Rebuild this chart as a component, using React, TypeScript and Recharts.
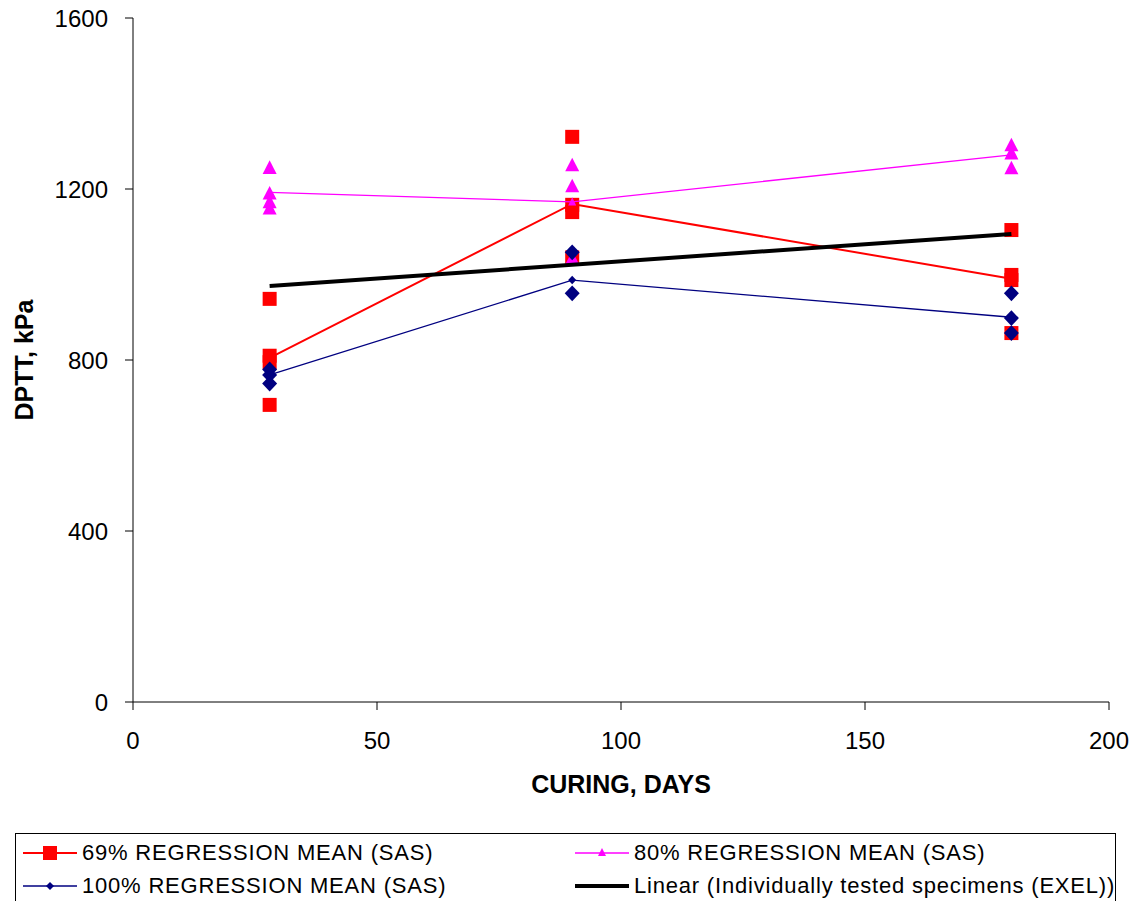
import React from 'react';
import { ScatterChart, Scatter, XAxis, YAxis, Legend, Label } from 'recharts';

// ---- data ----
const curingDays = [28, 90, 180];
const xTicks = [0, 50, 100, 150, 200];
const yTicks = [0, 400, 800, 1200, 1600];

// individual specimens per curing day (28, 90, 180)
const pct69Points = [
  [943, 810, 795, 695],
  [1322, 1163, 1146, 1040],
  [1104, 999, 987, 863],
];
const pct80Points = [
  [1250, 1190, 1170, 1155],
  [1256, 1207, 1038],
  [1303, 1284, 1249],
];
const pct100Points = [
  [778, 765, 745],
  [1052, 956],
  [956, 898, 863],
];

// regression means
const pct69Mean = [805, 1165, 990];
const pct80Mean = [1192, 1170, 1280];
const pct100Mean = [765, 987, 900];

// linear trend of individually tested specimens
const linearDays = [28, 180];
const linearValues = [973, 1095];

const legendLabels = [
  '69% REGRESSION MEAN (SAS)',
  '80% REGRESSION MEAN (SAS)',
  '100% REGRESSION MEAN (SAS)',
  'Linear (Individually tested specimens (EXEL))',
];

// ---- helpers ----
const toPoints = (groups: number[][]) =>
  groups.flatMap((vals, i) => vals.map((v) => ({ x: curingDays[i], y: v })));
const toMean = (vals: number[]) => vals.map((v, i) => ({ x: curingDays[i], y: v }));

const RED = '#FF0000';
const MAGENTA = '#FF00FF';
const NAVY = '#000080';
const FONT = '"Liberation Sans", Arial, sans-serif';

const Square = (s: number, color: string) => (p: any) =>
  <rect x={p.cx - s / 2} y={p.cy - s / 2} width={s} height={s} fill={color} />;
const Triangle = (s: number, color: string) => (p: any) => {
  const h = s * 0.9;
  return (
    <path
      d={`M${p.cx},${p.cy - h / 2 - 1}L${p.cx + s / 2},${p.cy + h / 2}L${p.cx - s / 2},${p.cy + h / 2}Z`}
      fill={color}
    />
  );
};
const Diamond = (s: number, color: string) => (p: any) => {
  const w = s / 2;
  const h = (s / 2) * 1.05;
  return (
    <path
      d={`M${p.cx},${p.cy - h}L${p.cx + w},${p.cy}L${p.cx},${p.cy + h}L${p.cx - w},${p.cy}Z`}
      fill={color}
    />
  );
};
const NoDot = () => <g />;

const LegendIcon = ({ kind }: { kind: number }) => {
  const colors = [RED, MAGENTA, NAVY, '#000'];
  const c = colors[kind];
  return (
    <svg width={58} height={20} style={{ display: 'block' }}>
      <line x1={2} y1={10} x2={56} y2={10} stroke={c} strokeWidth={kind === 3 ? 4 : kind === 0 ? 2 : 1.3} />
      {kind === 0 && <rect x={22} y={3} width={14} height={14} fill={c} />}
      {kind === 1 && <path d="M29,5L33,13L25,13Z" fill={c} />}
      {kind === 2 && <path d="M29,6L33,10L29,14L25,10Z" fill={c} />}
    </svg>
  );
};

const renderLegend = () => (
  <div
    style={{
      boxSizing: 'border-box',
      width: 1101,
      height: 70,
      border: '1px solid #000',
      fontFamily: FONT,
      fontSize: 22,
      letterSpacing: 0.8,
      color: '#000',
      position: 'relative',
    }}
  >
    {legendLabels.map((t, i) => (
      <div
        key={t}
        style={{
          position: 'absolute',
          left: i % 2 === 0 ? 5 : 557,
          top: i < 2 ? 6 : 39,
          display: 'flex',
          alignItems: 'center',
          whiteSpace: 'nowrap',
        }}
      >
        <LegendIcon kind={i} />
        <span style={{ marginLeft: 3 }}>{t}</span>
      </div>
    ))}
  </div>
);

export default function App() {
  return (
    <div style={{ position: 'absolute', left: 0, top: 0, background: '#fff' }}>
      <ScatterChart width={1141} height={901} margin={{ top: 18, right: 32, bottom: 99, left: 0 }}>
        <XAxis
          type="number"
          dataKey="x"
          domain={[0, 200]}
          ticks={xTicks}
          tickSize={8}
          tickMargin={22}
          stroke="#000"
          tick={{ fill: '#000', fontSize: 24, fontFamily: FONT }}
          height={100}
          allowDataOverflow
        >
          <Label
            value="CURING, DAYS"
            position="insideBottom"
            offset={9}
            style={{ fontSize: 25, fontWeight: 'bold', fontFamily: FONT, fill: '#000' }}
          />
        </XAxis>
        <YAxis
          type="number"
          dataKey="y"
          domain={[0, 1600]}
          ticks={yTicks}
          tickSize={8}
          tickMargin={17}
          stroke="#000"
          width={133}
          tick={{ fill: '#000', fontSize: 24, fontFamily: FONT }}
        >
          <Label
            content={(props: any) => {
              const vb = props.viewBox;
              const cx = 33;
              const cy = vb.y + vb.height / 2;
              return (
                <text
                  x={cx}
                  y={cy}
                  transform={`rotate(-90 ${cx} ${cy})`}
                  textAnchor="middle"
                  style={{ fontSize: 25, fontWeight: 'bold', fontFamily: FONT, fill: '#000' }}
                >
                  DPTT, kPa
                </text>
              );
            }}
          />
        </YAxis>
        <Legend
          layout="vertical"
          align="center"
          verticalAlign="middle"
          content={renderLegend}
          wrapperStyle={{ left: 15, top: 833, width: 1101 }}
        />
        <Scatter
          name="69% points"
          data={toPoints(pct69Points)}
          shape={Square(14, RED)}
          legendType="none"
          isAnimationActive={false}
        />
        <Scatter
          name={legendLabels[0]}
          data={toMean(pct69Mean)}
          line={{ stroke: RED, strokeWidth: 2 }}
          lineType="joint"
          shape={NoDot}
          isAnimationActive={false}
        />
        <Scatter
          name="80% points"
          data={toPoints(pct80Points)}
          shape={Triangle(14, MAGENTA)}
          legendType="none"
          isAnimationActive={false}
        />
        <Scatter
          name={legendLabels[1]}
          data={toMean(pct80Mean)}
          line={{ stroke: MAGENTA, strokeWidth: 1.3 }}
          lineType="joint"
          shape={Triangle(8, MAGENTA)}
          isAnimationActive={false}
        />
        <Scatter
          name="100% points"
          data={toPoints(pct100Points)}
          shape={Diamond(15, NAVY)}
          legendType="none"
          isAnimationActive={false}
        />
        <Scatter
          name={legendLabels[2]}
          data={toMean(pct100Mean)}
          line={{ stroke: NAVY, strokeWidth: 1.3 }}
          lineType="joint"
          shape={Diamond(8, NAVY)}
          isAnimationActive={false}
        />
        <Scatter
          name={legendLabels[3]}
          data={linearDays.map((d, i) => ({ x: d, y: linearValues[i] }))}
          line={{ stroke: '#000', strokeWidth: 4 }}
          lineType="joint"
          shape={NoDot}
          isAnimationActive={false}
        />
      </ScatterChart>
    </div>
  );
}
